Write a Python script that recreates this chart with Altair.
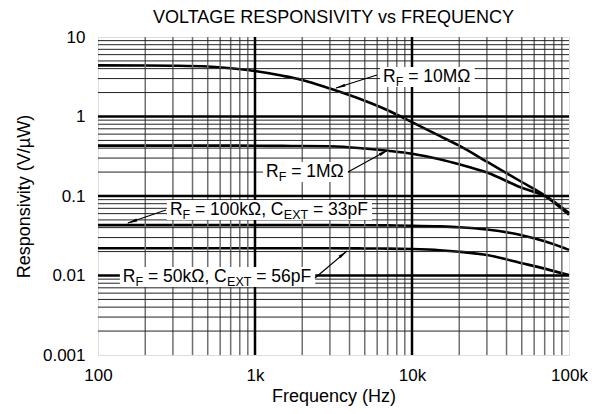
import altair as alt
import pandas as pd
import math

# ---------------- data ----------------
freq = [100, 200, 300, 500, 700, 1000, 1500, 2000, 3000, 5000, 7000,
        10000, 15000, 20000, 30000, 50000, 70000, 100000]
resp_10m = [4.4, 4.38, 4.35, 4.25, 4.05, 3.73, 3.25, 2.88, 2.25, 1.58, 1.2,
            0.85, 0.57, 0.43, 0.27, 0.15, 0.102, 0.058]
resp_1m = [0.43, 0.43, 0.43, 0.43, 0.43, 0.428, 0.427, 0.425, 0.422, 0.395, 0.37,
           0.34, 0.29, 0.25, 0.197, 0.127, 0.1, 0.061]
resp_100k = [0.043, 0.043, 0.043, 0.043, 0.043, 0.043, 0.043, 0.043, 0.043, 0.0429, 0.0427,
             0.0423, 0.0415, 0.0405, 0.0379, 0.0321, 0.0269, 0.021]
resp_50k = [0.022, 0.022, 0.022, 0.022, 0.022, 0.022, 0.022, 0.022, 0.022, 0.0219, 0.0218,
            0.0215, 0.0208, 0.0199, 0.0181, 0.0143, 0.0122, 0.0101]
series_names = ["10M", "1M", "100k", "50k"]

x_ticks = [100, 1000, 10000, 100000]
y_ticks = [0.001, 0.01, 0.1, 1, 10]
x_major = [1000, 10000]
y_major = [0.01, 0.1, 1]
x_minor = [200, 300, 400, 500, 600, 700, 800, 900,
           2000, 3000, 4000, 5000, 6000, 7000, 8000, 9000,
           20000, 30000, 40000, 50000, 60000, 70000, 80000, 90000]
y_minor = [0.002, 0.003, 0.004, 0.005, 0.006, 0.007, 0.008, 0.009,
           0.02, 0.03, 0.04, 0.05, 0.06, 0.07, 0.08, 0.09,
           0.2, 0.3, 0.4, 0.5, 0.6, 0.7, 0.8, 0.9,
           2, 3, 4, 5, 6, 7, 8, 9]

# annotations: label text parts (text, is_subscript), anchors, arrows
label_parts = [
    [("R", 0), ("F", 1), (" = 10MΩ", 0)],
    [("R", 0), ("F", 1), (" = 1MΩ", 0)],
    [("R", 0), ("F", 1), (" = 100kΩ, C", 0), ("EXT", 1), (" = 33pF", 0)],
    [("R", 0), ("F", 1), (" = 50kΩ, C", 0), ("EXT", 1), (" = 56pF", 0)],
]
label_freq = [6540, 1175, 287, 144]
label_resp = [3.14, 0.2, 0.0667, 0.00957]
arrow_from_freq = [5980, 3910, 271, 2410]
arrow_from_resp = [3.33, 0.2, 0.0667, 0.0093]
arrow_to_freq = [3280, 7030, 155, 3850]
arrow_to_resp = [2.28, 0.379, 0.0457, 0.0203]
arrow_angle = [252, 61, 251, 51]

# ---------------- styling ----------------
FONT = "Liberation Sans"
FS = 17
AFS = 17.5
SUB = 12.5
W = {"R": .722, "F": .611, " ": .278, "=": .584, "0": .556, "1": .556,
     "3": .556, "5": .556, "6": .556, "M": .833, "Ω": .768, "k": .5, ",": .278,
     "C": .722, "E": .667, "X": .667, "T": .611, "p": .556}


def tw(s, size):
    return sum(W.get(c, .556) for c in s) * size


xs = alt.Scale(type="log", domain=[100, 100000], nice=False)
ys = alt.Scale(type="log", domain=[0.001, 10], nice=False)

rows = []
for name, vals in zip(series_names, [resp_10m, resp_1m, resp_100k, resp_50k]):
    for f, v in zip(freq, vals):
        rows.append({"f": f, "r": v, "s": name})
curves_df = pd.DataFrame(rows)

base_x = alt.X("f:Q", scale=xs, axis=alt.Axis(
    values=x_ticks, format="~s", grid=False, ticks=False, domain=False,
    labelFlush=False, labelFontSize=FS, labelFont=FONT, labelColor="black",
    labelPadding=12, title="Frequency (Hz)", titleFontSize=18, titleFont=FONT,
    titleFontWeight="normal", titleColor="black", titlePadding=4))
base_y = alt.Y("r:Q", scale=ys, axis=alt.Axis(
    values=y_ticks, format="~g", grid=False, ticks=False, domain=False,
    labelFontSize=FS, labelFont=FONT, labelColor="black", labelPadding=13,
    title="Responsivity (V/µW)", titleFontSize=18, titleFont=FONT,
    titleFontWeight="normal", titleColor="black", titlePadding=9))

curves = alt.Chart(curves_df).mark_line(
    color="black", strokeWidth=2.6, interpolate="monotone"
).encode(x=base_x, y=base_y, detail="s:N")

vminor = alt.Chart(pd.DataFrame({"f": x_minor})).mark_rule(
    color="#707070", strokeWidth=1.5).encode(x=alt.X("f:Q", scale=xs))
hminor = alt.Chart(pd.DataFrame({"r": y_minor})).mark_rule(
    color="#222222", strokeWidth=1).encode(y=alt.Y("r:Q", scale=ys))
vmajor = alt.Chart(pd.DataFrame({"f": x_major})).mark_rule(
    color="black", strokeWidth=2.5).encode(x=alt.X("f:Q", scale=xs))
hmajor = alt.Chart(pd.DataFrame({"r": y_major})).mark_rule(
    color="black", strokeWidth=2.5).encode(y=alt.Y("r:Q", scale=ys))

layers = [vminor, hminor, vmajor, hmajor]

box_layers = []
text_layers = []
for parts, lf, lr in zip(label_parts, label_freq, label_resp):
    df = pd.DataFrame({"f": [lf], "r": [lr]})
    total = sum(tw(t, SUB if s else AFS) for t, s in parts)
    box_layers.append(alt.Chart(df).mark_rect(
        color="white", xOffset=-3, x2Offset=total + 4, yOffset=-10, y2Offset=10
    ).encode(x=alt.X("f:Q", scale=xs), x2="f:Q", y=alt.Y("r:Q", scale=ys), y2="r:Q"))
    dx = 0.0
    for t, s in parts:
        size = SUB if s else AFS
        stripped = t.lstrip(" ")
        lead = tw(t[:len(t) - len(stripped)], size)
        text_layers.append(alt.Chart(df).mark_text(
            text=stripped, align="left", baseline="middle", font=FONT, fontSize=size,
            color="black", dx=dx + lead, dy=5 if s else 0
        ).encode(x=alt.X("f:Q", scale=xs), y=alt.Y("r:Q", scale=ys)))
        dx += tw(t, size)

arrow_layers = []
for ff, fr, tf, tr, ang in zip(arrow_from_freq, arrow_from_resp, arrow_to_freq,
                               arrow_to_resp, arrow_angle):
    df = pd.DataFrame({"f": [ff], "r": [fr], "f2": [tf], "r2": [tr]})
    arrow_layers.append(alt.Chart(df).mark_rule(color="black", strokeWidth=1.2).encode(
        x=alt.X("f:Q", scale=xs), y=alt.Y("r:Q", scale=ys), x2="f2:Q", y2="r2:Q"))
    half = 6
    ox = -half * math.sin(math.radians(ang))
    oy = half * math.cos(math.radians(ang))
    arrow_layers.append(alt.Chart(df).mark_point(
        shape="wedge", filled=True, color="black", opacity=1, size=150, angle=ang,
        xOffset=ox, yOffset=oy, strokeWidth=0
    ).encode(x=alt.X("f2:Q", scale=xs), y=alt.Y("r2:Q", scale=ys)))

chart = alt.layer(
    curves, *layers, *box_layers, *arrow_layers, *text_layers
).properties(
    width=471, height=318,
    autosize=alt.AutoSizeParams(type="none"),
    padding={"left": 90, "top": 29, "right": 30, "bottom": 51},
    title=alt.Title("VOLTAGE RESPONSIVITY vs FREQUENCY", font=FONT, fontSize=18,
                    fontWeight="normal", color="black", anchor="middle", offset=1),
).configure_view(stroke="black", strokeWidth=3).configure(background="white")

chart.save("out.html", embed_options={"renderer": "svg", "actions": False})
